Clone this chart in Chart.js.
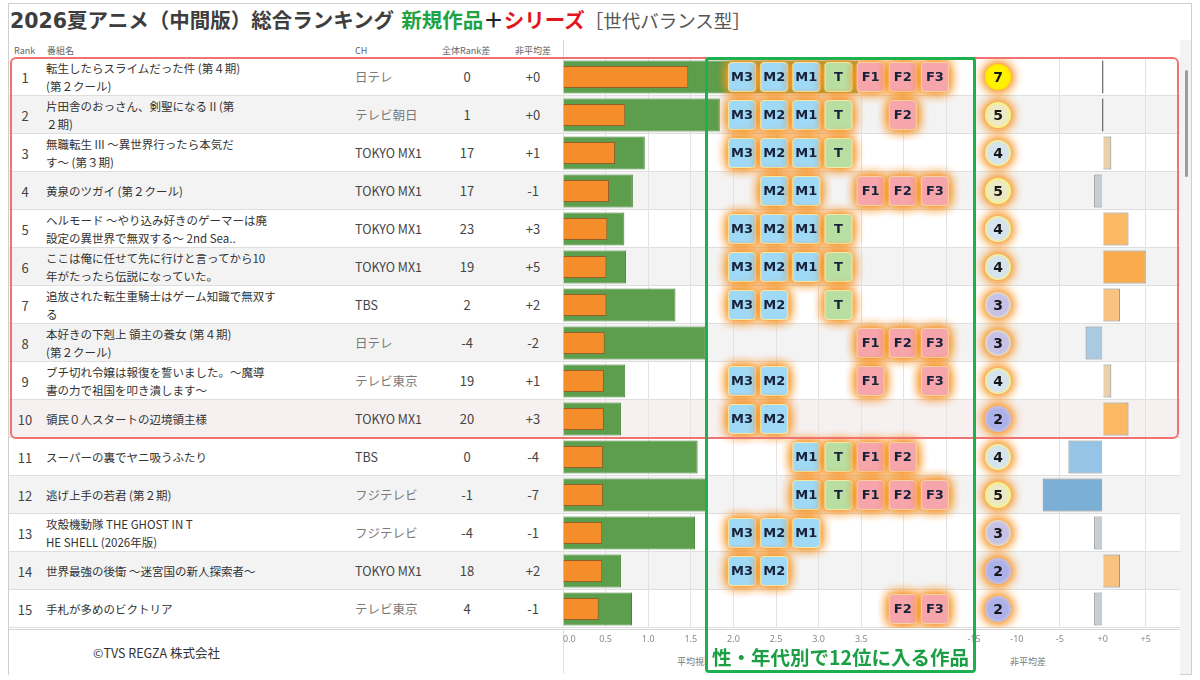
<!DOCTYPE html>
<html><head><meta charset="utf-8">
<script src="https://cdn.jsdelivr.net/npm/chart.js@4.4.1/dist/chart.umd.min.js"></script>
<style>
html,body{margin:0;padding:0;}
body{width:1200px;height:680px;background:#fff;position:relative;overflow:hidden;font-family:'Noto Sans CJK JP','Noto Sans',sans-serif;}
.a{position:absolute;white-space:nowrap;}
canvas{position:absolute;}
.row{position:absolute;left:9px;width:1171px;height:38px;box-sizing:border-box;border-bottom:1px solid #dedede;}
.rk{position:absolute;left:10px;width:32px;text-align:center;font-size:13px;color:#444;}
.tt{position:absolute;left:46px;font-size:11.5px;color:#333;line-height:18px;}
.ch{position:absolute;left:355px;font-size:12.5px;color:#454545;}
.num{position:absolute;width:40px;text-align:center;font-size:13px;color:#444;}
.hd{position:absolute;top:44px;font-size:9px;color:#666;}
</style></head><body>
<div class="a" style="left:8px;top:3px;width:1184px;height:672px;border:1px solid #cfcfcf;box-sizing:border-box;"></div>
<div class="a" style="left:10px;top:4px;font-size:20.5px;font-weight:700;color:#3e3e3e;font-family:'DejaVu Sans','Noto Sans CJK JP',sans-serif;">2026<span style="font-family:'Noto Sans CJK JP'">夏アニメ（中間版）総合ランキング</span> <span style="color:#1fa345;font-family:'Noto Sans CJK JP'">新規作品</span><span style="color:#222;font-family:'Noto Sans CJK JP'">＋</span><span style="color:#e3141b;font-family:'Noto Sans CJK JP'">シリーズ</span><span style="color:#555;font-weight:400;font-size:18.5px;font-family:'Noto Sans CJK JP'">［世代バランス型］</span></div>
<div class="hd" style="left:14px;">Rank</div>
<div class="hd" style="left:47px;">番組名</div>
<div class="hd" style="left:355px;">CH</div>
<div class="hd" style="left:442px;">全体Rank差</div>
<div class="hd" style="left:515px;">非平均差</div>
<div class="a" style="left:563px;top:40px;width:1px;height:17px;background:#d6d6d6;"></div>
<div id="rows"></div>
<div class="a" style="left:9px;top:629px;width:1171px;height:45px;background:#fff;border-top:1px solid #d6d6d6;"></div>
<div class="a" style="left:563px;top:630px;width:1px;height:44px;background:#e2e2e2;"></div>
<div class="a" style="left:1180px;top:40px;width:11px;height:634px;background:#f3f3f3;"></div>
<div class="a" style="left:1185px;top:70px;width:3px;height:107px;background:#9c9c9c;border-radius:2px;"></div>
<div class="a" style="left:93px;top:643px;font-size:12.5px;color:#333;">©TVS REGZA 株式会社</div>
<div class="a" style="left:677px;top:655px;font-size:9px;color:#777;">平均視聴率</div>
<div class="a" style="left:1010px;top:655px;font-size:9px;color:#777;">非平均差</div>
<canvas id="cA" width="412" height="595" style="left:563px;top:58px;z-index:1"></canvas>
<canvas id="cD" width="220" height="595" style="left:960px;top:58px;z-index:1"></canvas>
<canvas id="cB" width="269" height="570" style="left:706px;top:58px;z-index:2"></canvas>
<canvas id="cC" width="52" height="570" style="left:972px;top:58px;z-index:2"></canvas>
<div class="a" style="left:10px;top:57px;width:1169px;height:382px;border:2.5px solid #f07272;border-radius:6px;box-sizing:border-box;z-index:3;"></div>
<div class="a" style="left:705px;top:57px;width:271px;height:616px;border:3px solid #1db04e;border-radius:4px;box-sizing:border-box;z-index:3;"></div>
<div class="a" style="left:708px;top:643px;width:265px;height:27px;background:#fff;z-index:4;text-align:center;font-size:19.5px;font-weight:700;color:#1a9f45;line-height:27px;">性・年代別で12位に入る作品</div>
<script>
const ranks = [1,2,3,4,5,6,7,8,9,10,11,12,13,14,15];
const titles = [
 ['転生したらスライムだった件 (第４期)','(第２クール)'],
 ['片田舎のおっさん、剣聖になる II (第','２期)'],
 ['無職転生 III ～異世界行ったら本気だ','す～ (第３期)'],
 ['黄泉のツガイ (第２クール)'],
 ['ヘルモード ～やり込み好きのゲーマーは廃','設定の異世界で無双する～ 2nd Sea..'],
 ['ここは俺に任せて先に行けと言ってから10','年がたったら伝説になっていた。'],
 ['追放された転生重騎士はゲーム知識で無双す','る'],
 ['本好きの下剋上 領主の養女 (第４期)','(第２クール)'],
 ['ブチ切れ令嬢は報復を誓いました。～魔導','書の力で祖国を叩き潰します～'],
 ['領民０人スタートの辺境領主様'],
 ['スーパーの裏でヤニ吸うふたり'],
 ['逃げ上手の若君 (第２期)'],
 ['攻殻機動隊 THE GHOST IN T','HE SHELL (2026年版)'],
 ['世界最強の後衛 ～迷宮国の新人探索者～'],
 ['手札が多めのビクトリア']
];
const channels = ['日テレ','テレビ朝日','TOKYO MX1','TOKYO MX1','TOKYO MX1','TOKYO MX1','TBS','日テレ','テレビ東京','TOKYO MX1','TBS','フジテレビ','フジテレビ','TOKYO MX1','テレビ東京'];
const rankDiff = [0,1,17,17,23,19,2,-4,19,20,0,-1,-4,18,4];
const avgDiff = [0,0,1,-1,3,5,2,-2,1,3,-4,-7,-1,2,-1];
const totalValues = [3.46,1.84,0.96,0.82,0.72,0.74,1.32,1.67,0.73,0.68,1.58,1.69,1.55,0.68,0.81];
const scoreValues = [1.47,0.73,0.61,0.54,0.52,0.51,0.51,0.49,0.48,0.48,0.47,0.47,0.46,0.46,0.42];
const segments = ['M3','M2','M1','T','F1','F2','F3'];
const segmentHits = [
 [1,1,1,1,1,1,1],
 [1,1,1,1,0,1,0],
 [1,1,1,1,0,0,0],
 [0,1,1,0,1,1,1],
 [1,1,1,1,0,0,0],
 [1,1,1,1,0,0,0],
 [1,1,0,1,0,0,0],
 [0,0,0,0,1,1,1],
 [1,1,0,0,1,0,1],
 [1,1,0,0,0,0,0],
 [0,0,1,1,1,1,0],
 [0,0,1,1,1,1,1],
 [1,1,1,0,0,0,0],
 [1,1,0,0,0,0,0],
 [0,0,0,0,0,1,1]
];
const rowLabels = ranks.map(String);
const counts = segmentHits.map(r=>r.reduce((a,b)=>a+b,0));

const rowsEl = document.getElementById('rows');
const sign = v => (v>=0?'+':'')+v;
ranks.forEach((r,i)=>{
  const top = 58 + i*38;
  const bg = i===9 ? '#f6f0f0' : (i%2 ? '#f3f3f3' : '#ffffff');
  const jp = /[^\x00-\x7F]/.test(channels[i]);
  const lines = titles[i];
  const tTop = lines.length===2 ? 1 : 10;
  rowsEl.insertAdjacentHTML('beforeend',
   `<div class="row" style="top:${top}px;background:${bg}">
     <div class="rk" style="top:10px;left:0px">${r}</div>
     <div class="tt" style="top:${tTop}px;left:37px">${lines.join('<br>')}</div>
     <div class="ch" style="top:9px;left:346px;color:${jp?'#7a7a7a':'#454545'}">${channels[i]}</div>
     <div class="num" style="top:9px;left:438px">${rankDiff[i]}</div>
     <div class="num" style="top:9px;left:504px">${sign(avgDiff[i])}</div>
   </div>`);
});

Chart.defaults.font.family = "'Noto Sans','DejaVu Sans',sans-serif";
const noPad = s => { s.height = 25; s.paddingLeft = 0; s.paddingRight = 0; };

new Chart(document.getElementById('cA'), {
  type:'bar',
  data:{labels:rowLabels, datasets:[
    {data:totalValues, backgroundColor:'#5c9e4c', borderColor:'#47853a', borderWidth:1, barPercentage:0.87, categoryPercentage:1, grouped:false, order:2},
    {data:scoreValues, backgroundColor:'#f58d2a', borderColor:'#94602a', borderWidth:1, barPercentage:0.58, categoryPercentage:1, grouped:false, order:1}
  ]},
  options:{indexAxis:'y', responsive:false, animation:false, layout:{padding:0},
    plugins:{legend:{display:false}, tooltip:{enabled:false}},
    scales:{
      y:{display:false},
      x:{min:0, max:4.835, border:{display:false},
        grid:{color:'#e3e3e3', drawTicks:false},
        ticks:{stepSize:0.5, includeBounds:false, align:'inner', padding:6, color:'#888', font:{size:9},
          callback:v => v<=3.5 ? Number(v).toFixed(1) : ''},
        afterFit:noPad}
    }}
});

function diffColor(v){
  if(v===0) return '#555';
  const pos=['#ead0a8','#f9c27f','#fbb966','#faaf57','#f9ab4e'];
  const neg=['#c6ced4','#a8cbe2','#a0c8e5','#96c4e6','#8cbce2','#83b5dd','#7bafd6'];
  return v>0 ? pos[Math.min(v,5)-1] : neg[Math.min(-v,7)-1];
}
new Chart(document.getElementById('cD'), {
  type:'bar',
  data:{labels:rowLabels, datasets:[
    {data:avgDiff, backgroundColor:avgDiff.map(diffColor), borderColor:avgDiff.map(v=>v===0?'#555':'#858585'),
     borderWidth:1, barPercentage:0.87, categoryPercentage:1, minBarLength:1.5}
  ]},
  options:{indexAxis:'y', responsive:false, animation:false, layout:{padding:{left:14,right:0,top:0,bottom:0}},
    plugins:{legend:{display:false}, tooltip:{enabled:false}},
    scales:{
      y:{display:false},
      x:{min:-15, max:9, border:{display:false},
        grid:{drawTicks:false, color:c => (c.tick && (c.tick.value===-5 || c.tick.value===5)) ? '#e2e2e2' : 'rgba(0,0,0,0)'},
        ticks:{stepSize:5, includeBounds:false, padding:6, color:'#888', font:{size:9},
          callback:v => v>=0 ? '+'+v : String(v)},
        afterFit:noPad}
    }}
});

function rr(g,x,y,w,h,r){g.beginPath();g.moveTo(x+r,y);g.lineTo(x+w-r,y);g.quadraticCurveTo(x+w,y,x+w,y+r);g.lineTo(x+w,y+h-r);g.quadraticCurveTo(x+w,y+h,x+w-r,y+h);g.lineTo(x+r,y+h);g.quadraticCurveTo(x,y+h,x,y+h-r);g.lineTo(x,y+r);g.quadraticCurveTo(x,y,x+r,y);g.closePath();}
function makeTile(fill, edge){
  const c=document.createElement('canvas'); c.width=52; c.height=54;
  const g=c.getContext('2d');
  g.shadowColor='rgba(248,148,36,0.95)'; g.shadowBlur=12;
  rr(g,26-13.5,27-14.5,27,29,4); g.fillStyle=fill; g.fill(); g.fill(); g.fill();
  g.shadowBlur=0; g.fillStyle=fill; g.fill();
  g.lineWidth=1.2; g.strokeStyle=edge; g.stroke();
  return c;
}
const tileImg = {
  M3:makeTile('#9fd9f6','#f3e8a6'), M2:makeTile('#9fd9f6','#f3e8a6'), M1:makeTile('#9fd9f6','#f3e8a6'),
  T:makeTile('#b9dea2','#f3e8a6'),
  F1:makeTile('#f6a5aa','#f7cfa0'), F2:makeTile('#f6a5aa','#f7cfa0'), F3:makeTile('#f6a5aa','#f7cfa0')
};
const tilePoints = [];
segmentHits.forEach((row,i)=>row.forEach((h,j)=>{ if(h) tilePoints.push({x:segments[j], y:rowLabels[i]}); }));

const labelPlugin = (font,color,getText) => ({
  id:'lbl',
  afterDatasetsDraw(chart){
    const ctx=chart.ctx, meta=chart.getDatasetMeta(0), ds=chart.data.datasets[0].data;
    ctx.save(); ctx.font=font; ctx.fillStyle=color; ctx.textAlign='center'; ctx.textBaseline='middle';
    meta.data.forEach((el,i)=>ctx.fillText(getText(ds[i]), el.x, el.y+1));
    ctx.restore();
  }
});

new Chart(document.getElementById('cB'), {
  type:'scatter',
  data:{datasets:[{data:tilePoints, pointStyle:c=>tileImg[c.raw.x], radius:14, clip:false}]},
  options:{responsive:false, animation:false, layout:{autoPadding:false, padding:{left:20,right:24,top:0,bottom:0}},
    plugins:{legend:{display:false}, tooltip:{enabled:false}},
    scales:{
      x:{type:'category', labels:segments, offset:true, display:false},
      y:{type:'category', labels:rowLabels, offset:true, display:false}
    }},
  plugins:[labelPlugin('bold 13px "DejaVu Sans"','#18213a',d=>d.x)]
});

function makeCircle(inner, ring){
  const c=document.createElement('canvas'); c.width=52; c.height=52;
  const g=c.getContext('2d');
  g.shadowColor='rgba(248,148,36,0.9)'; g.shadowBlur=12;
  const grd=g.createRadialGradient(26,26,2,26,26,13);
  grd.addColorStop(0,inner); grd.addColorStop(0.72,inner); grd.addColorStop(1,ring);
  g.beginPath(); g.arc(26,26,13,0,Math.PI*2); g.fillStyle=grd; g.fill(); g.fill(); g.fill();
  return c;
}
const circleImg = {
  7:makeCircle('#fff200','#ffe600'),
  5:makeCircle('#ece9c4','#f8f27a'),
  4:makeCircle('#d5e3ee','#f6ef96'),
  3:makeCircle('#c6c2e7','#e8dcc0'),
  2:makeCircle('#adb1ea','#c9c3e0')
};
const circlePoints = counts.map((n,i)=>({x:'n', y:rowLabels[i], v:n}));
new Chart(document.getElementById('cC'), {
  type:'scatter',
  data:{datasets:[{data:circlePoints, pointStyle:c=>circleImg[c.raw.v]||circleImg[4], radius:13, clip:false}]},
  options:{responsive:false, animation:false, layout:{autoPadding:false, padding:0},
    plugins:{legend:{display:false}, tooltip:{enabled:false}},
    scales:{
      x:{type:'category', labels:['n'], offset:true, display:false},
      y:{type:'category', labels:rowLabels, offset:true, display:false}
    }},
  plugins:[labelPlugin('bold 14px "DejaVu Sans"','#151515',d=>String(d.v))]
});
</script>
</body></html>
